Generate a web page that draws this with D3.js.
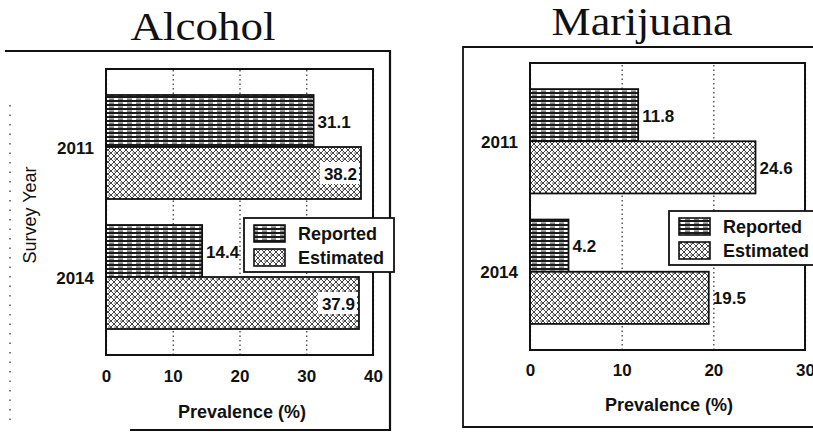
<!DOCTYPE html>
<html>
<head>
<meta charset="utf-8">
<title>Alcohol and Marijuana prevalence</title>
<script src="https://cdn.jsdelivr.net/npm/d3@7/dist/d3.min.js"></script>
<style>
  body { margin: 0; background: #fff; }
  text { font-family: "Liberation Sans", Arial, sans-serif; fill: #111; }
  .title { font-family: "Liberation Serif", "Times New Roman", serif; font-weight: normal; }
</style>
</head>
<body>
<svg id="chart" width="813" height="432"></svg>
<script>
var years = ["2011", "2014"];
var seriesNames = ["Reported", "Estimated"];
var alcoholReported = [31.1, 14.4];
var alcoholEstimated = [38.2, 37.9];
var marijuanaReported = [11.8, 4.2];
var marijuanaEstimated = [24.6, 19.5];
var alcoholTicks = [0, 10, 20, 30, 40];
var marijuanaTicks = [0, 10, 20, 30];

var svg = d3.select("#chart");
var defs = svg.append("defs");

// hatch for "Reported": dense dark horizontal lines
var p1 = defs.append("pattern").attr("id", "hatchRep")
  .attr("patternUnits", "userSpaceOnUse").attr("width", 9).attr("height", 4);
p1.append("rect").attr("width", 9).attr("height", 4).attr("fill", "#fff");
p1.append("rect").attr("y", 0).attr("width", 9).attr("height", 2).attr("fill", "#1a1a1a");
p1.append("rect").attr("x", 1).attr("y", 2.6).attr("width", 5).attr("height", 1).attr("fill", "#333");

// hatch for "Estimated": crosshatch
var p2 = defs.append("pattern").attr("id", "hatchEst")
  .attr("patternUnits", "userSpaceOnUse").attr("width", 6).attr("height", 6);
p2.append("rect").attr("width", 6).attr("height", 6).attr("fill", "#fff");
p2.append("path").attr("d", "M0,0 L6,6 M6,0 L0,6").attr("stroke", "#444").attr("stroke-width", 1);
p2.append("rect").attr("x", 0).attr("y", 2.6).attr("width", 3).attr("height", 0.9).attr("fill", "#555");

var fills = { Reported: "url(#hatchRep)", Estimated: "url(#hatchEst)" };

function panel(cfg) {
  var g = svg.append("g");
  var x = d3.scaleLinear().domain([0, cfg.ticks[cfg.ticks.length - 1]]).range([cfg.left, cfg.right]);
  var y = d3.scaleBand().domain(years).range([cfg.top, cfg.bottom]).paddingInner(0.2).paddingOuter(0.2);
  var ys = d3.scaleBand().domain(seriesNames).range([0, y.bandwidth()]);

  // outer frame
  cfg.frame(g);

  // title
  g.append("text").attr("class", "title")
    .attr("x", cfg.titleX).attr("y", cfg.titleY)
    .attr("text-anchor", "middle").attr("font-size", 40)
    .attr("textLength", cfg.titleLen).attr("lengthAdjust", "spacingAndGlyphs")
    .text(cfg.title);

  // dotted gridlines + tick labels via axis
  var ax = g.append("g").attr("transform", "translate(0," + cfg.bottom + ")")
    .call(d3.axisBottom(x).tickValues(cfg.ticks).tickFormat(d3.format("d"))
      .tickSize(-(cfg.bottom - cfg.top)).tickPadding(cfg.tickPad));
  ax.select(".domain").remove();
  ax.selectAll(".tick line").attr("stroke", "#333").attr("stroke-width", 1.2)
    .attr("stroke-dasharray", "1.5,3");
  ax.selectAll(".tick text").attr("font-size", 17).attr("font-weight", "bold").attr("fill", "#111")
    .attr("font-family", "Liberation Sans, Arial, sans-serif");

  var rows = [];
  years.forEach(function (yr, i) {
    rows.push({ year: yr, s: "Reported", v: cfg.rep[i] });
    rows.push({ year: yr, s: "Estimated", v: cfg.est[i] });
  });

  var bars = g.append("g").selectAll("g").data(rows).enter().append("g");
  bars.append("rect")
    .attr("x", x(0))
    .attr("y", function (d) { return y(d.year) + ys(d.s); })
    .attr("width", function (d) { return x(d.v) - x(0); })
    .attr("height", ys.bandwidth())
    .attr("fill", function (d) { return fills[d.s]; })
    .attr("stroke", "#111").attr("stroke-width", 1.8);

  bars.each(function (d) {
    var b = d3.select(this);
    var cy = y(d.year) + ys(d.s) + ys.bandwidth() / 2;
    var label = d.v.toFixed(1);
    var t = b.append("text").attr("font-size", 17).attr("font-weight", "bold")
      .attr("dominant-baseline", "central").attr("y", cy + 1).text(label);
    var w = t.node().getComputedTextLength();
    if (x(d.v) + 4 + w > cfg.right - 2) {
      t.attr("text-anchor", "end").attr("x", x(d.v) - 4);
      b.insert("rect", "text").attr("x", x(d.v) - 8 - w).attr("y", cy - 11)
        .attr("width", w + 6).attr("height", 22).attr("fill", "#fff");
    } else {
      t.attr("x", x(d.v) + 4);
    }
  });

  // plot box
  g.append("rect").attr("x", cfg.left).attr("y", cfg.top)
    .attr("width", cfg.right - cfg.left).attr("height", cfg.bottom - cfg.top)
    .attr("fill", "none").attr("stroke", "#111").attr("stroke-width", 2);

  // category labels
  g.selectAll(".cat").data(years).enter().append("text")
    .attr("x", cfg.left - 12).attr("y", function (d) { return y(d) + y.bandwidth() / 2 + 1; })
    .attr("text-anchor", "end").attr("dominant-baseline", "central")
    .attr("font-size", 17).attr("font-weight", "bold").text(function (d) { return d; });

  // x axis title
  g.append("text").attr("x", cfg.xTitleX).attr("y", cfg.xTitleY)
    .attr("text-anchor", "middle").attr("font-size", 18).attr("font-weight", "bold")
    .text("Prevalence (%)");

  if (cfg.yTitle) {
    g.append("text").attr("transform", "translate(" + cfg.yTitleX + "," + cfg.yTitleY + ") rotate(-90)")
      .attr("text-anchor", "middle").attr("dominant-baseline", "central")
      .attr("font-size", 18).attr("fill", "#000").text(cfg.yTitle);
  }

  // legend
  var L = cfg.legend;
  var lg = g.append("g");
  lg.append("rect").attr("x", L.x).attr("y", L.y).attr("width", L.w).attr("height", L.h)
    .attr("fill", "#fff").attr("stroke", "#111").attr("stroke-width", 1.8);
  seriesNames.forEach(function (s, i) {
    var sy = L.y + 7 + i * 24;
    lg.append("rect").attr("x", L.x + 10).attr("y", sy).attr("width", 31).attr("height", 17)
      .attr("fill", fills[s]).attr("stroke", "#111").attr("stroke-width", 1.6);
    lg.append("text").attr("x", L.x + 54).attr("y", sy + 9)
      .attr("dominant-baseline", "central").attr("font-size", 18).attr("font-weight", "bold")
      .text(s);
  });
}

panel({
  title: "Alcohol", titleX: 203, titleY: 40, titleLen: 145,
  rep: alcoholReported, est: alcoholEstimated, ticks: alcoholTicks,
  left: 106, right: 373, top: 69, bottom: 355, tickPad: 15,
  xTitleX: 242, xTitleY: 418, yTitle: "Survey Year", yTitleX: 30, yTitleY: 215,
  legend: { x: 244, y: 218, w: 150, h: 54 },
  frame: function (g) {
    g.append("path").attr("d", "M5,51 H390 V218 M390,272 V430 H130")
      .attr("fill", "none").attr("stroke", "#111").attr("stroke-width", 2.2);
    g.append("line").attr("x1", 10).attr("x2", 10).attr("y1", 105).attr("y2", 428)
      .attr("stroke", "#555").attr("stroke-width", 1.5).attr("stroke-dasharray", "1.5,8");
  }
});

panel({
  title: "Marijuana", titleX: 642, titleY: 35, titleLen: 181,
  rep: marijuanaReported, est: marijuanaEstimated, ticks: marijuanaTicks,
  left: 530, right: 805, top: 63, bottom: 350, tickPad: 14,
  xTitleX: 669, xTitleY: 411, yTitle: null,
  legend: { x: 669, y: 211, w: 160, h: 54 },
  frame: function (g) {
    g.append("path").attr("d", "M820,47 H463 V427 H820")
      .attr("fill", "none").attr("stroke", "#111").attr("stroke-width", 1.8);
  }
});
</script>
</body>
</html>
